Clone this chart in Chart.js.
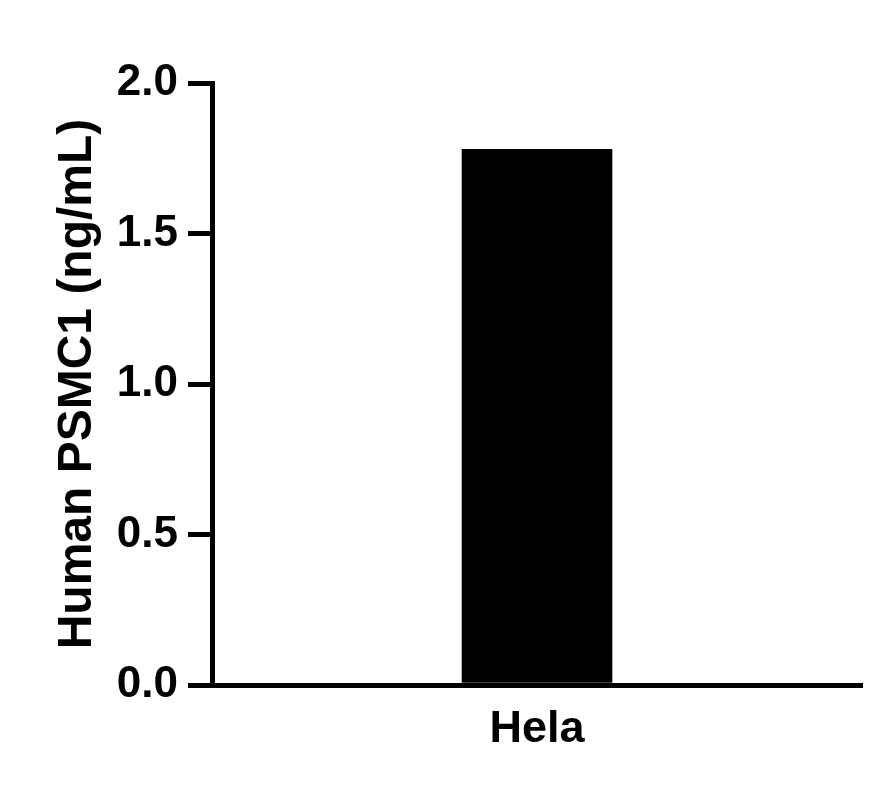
<!DOCTYPE html>
<html>
<head>
<meta charset="utf-8">
<script src="https://cdn.jsdelivr.net/npm/chart.js@4"></script>
<style>
  html, body { margin: 0; padding: 0; background: #fff; }
  #wrap { width: 891px; height: 804px; }
</style>
</head>
<body>
<div id="wrap"><canvas id="myBar"></canvas></div>
<script>
  const categories = ['Hela'];
  const psmc1Values = [1.78];
  const yTicks = [0, 0.5, 1.0, 1.5, 2.0];

  const font = "'Liberation Sans', Arial, sans-serif";

  const ctx = document.getElementById('myBar');

  const myBar = new Chart(ctx, {
    type: 'bar',
    data: {
      labels: categories,
      datasets: [
        {
          data: psmc1Values,
          backgroundColor: '#000000',
          barThickness: 150,
        },
      ]
    },
    options: {
      maintainAspectRatio: false,
      responsive: true,
      animation: false,
      layout: {
        padding: { top: 83, right: 29, bottom: 0, left: 0 }
      },
      plugins: {
        legend: { display: false },
        tooltip: { enabled: false }
      },
      scales: {
        x: {
          offset: true,
          grid: { display: false },
          border: { display: true, color: '#000', width: 5 },
          ticks: {
            color: '#000',
            padding: 10,
            font: { family: font, size: 45, weight: 'bold' }
          },
          afterFit: (scale) => { scale.height = 804 - 685; }
        },
        y: {
          min: 0,
          max: 2,
          afterBuildTicks: (scale) => { scale.ticks = yTicks.map(v => ({ value: v })); },
          grid: {
            drawOnChartArea: false,
            color: '#000',
            lineWidth: 5,
            tickLength: 24,
          },
          border: { display: true, color: '#000', width: 5 },
          ticks: {
            color: '#000',
            padding: 10,
            font: { family: font, size: 44, weight: 'bold' },
            callback: (v) => Number(v).toFixed(1)
          },
          title: {
            display: true,
            text: 'Human PSMC1 (ng/mL)',
            color: '#000',
            padding: { top: 49, bottom: 0 },
            font: { family: font, size: 48, weight: 'bold' }
          },
          afterFit: (scale) => { scale.width = 212; }
        }
      }
    }
  });
</script>
</body>
</html>
